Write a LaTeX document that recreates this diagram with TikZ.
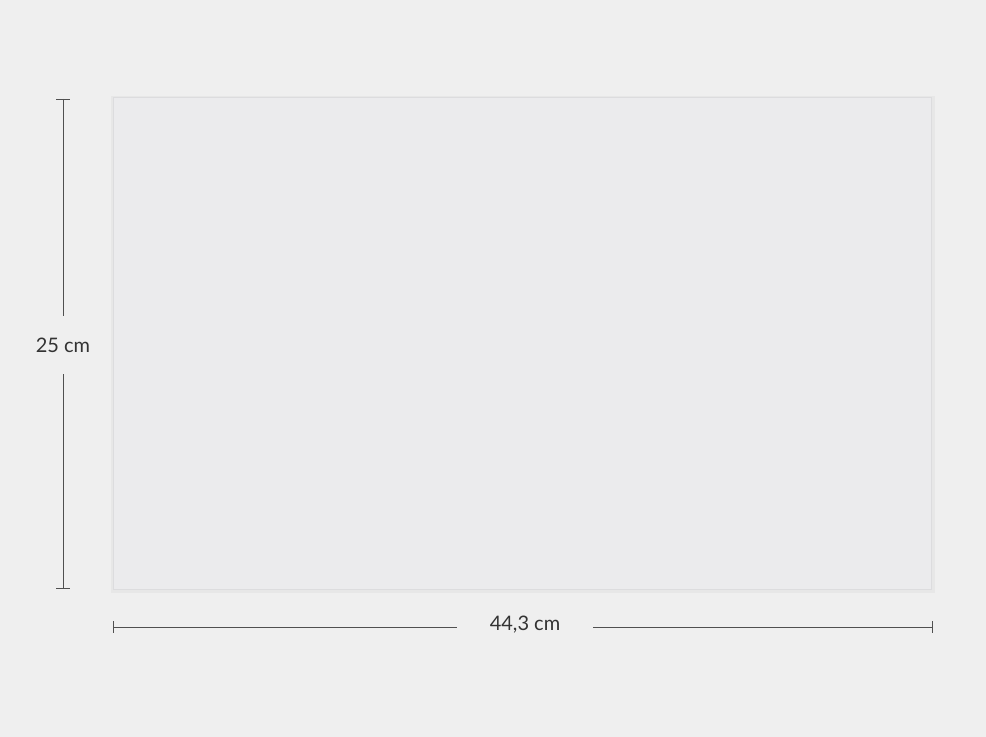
\documentclass[tikz,border=0pt]{standalone}
\usepackage{fontspec}
\setmainfont{Lato}
\usetikzlibrary{positioning}
\definecolor{paper}{HTML}{EFEFEF}
\definecolor{panel}{HTML}{EBEBED}
\definecolor{rim}{HTML}{DCDCDE}
\definecolor{dimline}{HTML}{505050}
\tikzset{
    dim line/.style = {
        draw = dimline,
        line width = 0.55pt,
        },
    dim tick/.style = {
        draw = dimline,
        line width = 0.55pt,
        },
    dim label/.style = {
        font = \fontsize{15}{17}\selectfont,
        text = black!80,
        inner sep = 0pt,
        },
    panel/.style = {
        fill = panel,
        draw = rim,
        line width = 0.9pt,
        }
}
\begin{document}
\begin{tikzpicture}[x=0.75pt, y=-0.75pt]
            \fill[paper] (0,0) rectangle (986,737);
            \useasboundingbox (0,0) rectangle (986,737);

            % shadow and panel
            \fill[black, opacity=0.03] (111,96) rectangle (935,593);
            \node[panel, minimum width=818*0.75pt, minimum height=492*0.75pt, anchor=north west, inner sep=0pt] (board) at (113,97) {};

            % height
            \coordinate (htop) at (63,99);
            \coordinate (hbot) at (63,588);
            \node[dim label, minimum height=58*0.75pt] (hlab) at (63,345) {25 cm};
            \draw[dim line] (htop) -- (hlab.north);
            \draw[dim line] (hlab.south) -- (hbot);
            \draw[dim tick] ([xshift=-5pt]htop) -- ([xshift=5pt]htop);
            \draw[dim tick] ([xshift=-5pt]hbot) -- ([xshift=5pt]hbot);

            % width
            \coordinate (wleft) at (113,627);
            \coordinate (wright) at (932,627);
            \node[dim label, minimum width=136*0.75pt] (wlab) at (525,625) {44,3 cm};
            \draw[dim line] (wleft) -- (wlab.west |- wleft);
            \draw[dim line] (wlab.east |- wright) -- (wright);
            \draw[dim tick] ([yshift=-4.5pt]wleft) -- ([yshift=4.5pt]wleft);
            \draw[dim tick] ([yshift=-4.5pt]wright) -- ([yshift=4.5pt]wright);
        \end{tikzpicture}
\end{document}
